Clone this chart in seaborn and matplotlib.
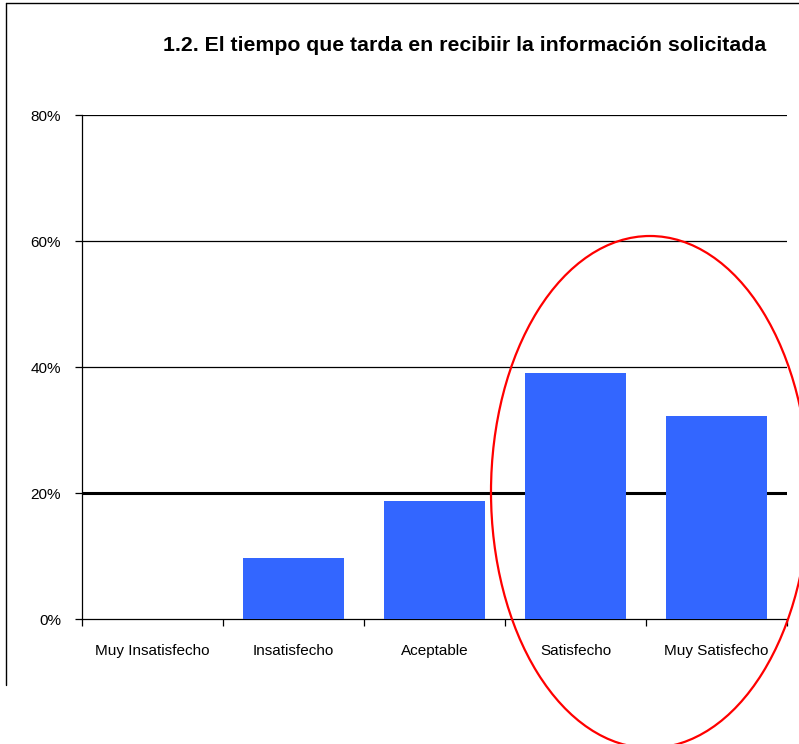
import matplotlib
matplotlib.use("Agg")
import matplotlib.pyplot as plt
import seaborn as sns
import pandas as pd
from matplotlib.patches import Ellipse
from matplotlib.lines import Line2D
from matplotlib.ticker import FuncFormatter

# data
categorias = ["Muy Insatisfecho", "Insatisfecho", "Aceptable", "Satisfecho", "Muy Satisfecho"]
porcentajes = [0.0, 9.7, 18.7, 39.1, 32.3]
titulo = "1.2. El tiempo que tarda en recibiir la información solicitada"

sns.set_theme(style="white")
plt.rcParams['font.family'] = ['Liberation Sans', 'DejaVu Sans']

df = pd.DataFrame({'cat': categorias, 'pct': porcentajes})

fig = plt.figure(figsize=(7.99, 7.44), dpi=100)
ax = fig.add_axes([0.1026, 0.168, 0.8824, 0.677])

sns.barplot(data=df, x='cat', y='pct', color='#3366FF', saturation=1,
            width=0.71, ax=ax, zorder=3, edgecolor='none', linewidth=0)

ax.set_ylim(0, 80)
ax.set_xlim(-0.5, len(categorias) - 0.5)
ax.set_yticks([0, 20, 40, 60, 80])
ax.yaxis.set_major_formatter(FuncFormatter(lambda v, p: "%d%%" % v))

# gridlines (the 20% one is heavier in the original)
for v in [40, 60, 80]:
    ax.axhline(v, color='black', lw=0.9, zorder=1)
ax.axhline(20, color='black', lw=2.2, zorder=1)

for s in ['top', 'right']:
    ax.spines[s].set_visible(False)
for s in ['left', 'bottom']:
    ax.spines[s].set_color('black')
    ax.spines[s].set_linewidth(0.9)

ax.set_xlabel('')
ax.set_ylabel('')
ax.tick_params(axis='y', which='major', length=5, width=0.9, color='black',
               left=True, pad=10, labelsize=11, labelcolor='black')
ax.tick_params(axis='x', which='major', length=0, pad=18, labelsize=11,
               labelcolor='black')
ax.set_xticks([i - 0.5 for i in range(len(categorias) + 1)], minor=True)
ax.tick_params(axis='x', which='minor', length=5, width=0.9, color='black', bottom=True)

fig.text(0.582, 0.939, titulo, ha='center', va='center', fontsize=15.3,
         fontweight='bold', color='black')

# frame lines around the picture
fig.add_artist(Line2D([6 / 799, 1.0], [1 - 3 / 744, 1 - 3 / 744],
                      transform=fig.transFigure, color='black', lw=1.0))
fig.add_artist(Line2D([6 / 799, 6 / 799], [1 - 3 / 744, 1 - 685 / 744],
                      transform=fig.transFigure, color='black', lw=1.0))

# red ellipse around the two top answers
elipse = Ellipse((650 / 799, 1 - 492 / 744), 318 / 799, 512 / 744,
                 transform=fig.transFigure, fill=False, edgecolor='red',
                 lw=1.6, clip_on=False, zorder=10)
fig.add_artist(elipse)

fig.savefig('out.png', dpi=100)
